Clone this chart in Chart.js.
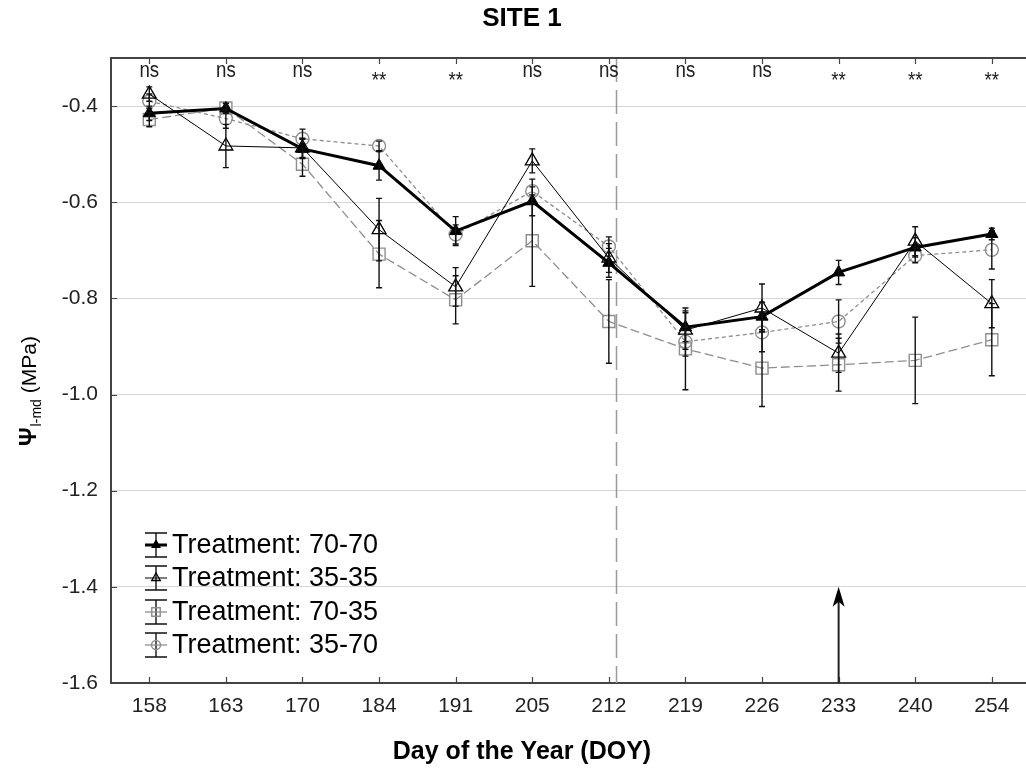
<!DOCTYPE html>
<html>
<head>
<meta charset="utf-8">
<script src="https://cdn.jsdelivr.net/npm/chart.js@4.4.1/dist/chart.umd.min.js"></script>
<style>
  html, body { margin: 0; padding: 0; overflow: hidden; background: #fff; }
  canvas { display: block; }
</style>
</head>
<body>
<canvas id="chart" width="1040" height="770"></canvas>
<script>
// Day of year (categories) and significance marks above each date
const days = ['158', '163', '170', '184', '191', '205', '212', '219', '226', '233', '240', '254'];
const signif = ['ns', 'ns', 'ns', '**', '**', 'ns', 'ns', 'ns', 'ns', '**', '**', '**'];

// Midday leaf water potential (MPa), mean and error per treatment
const t7070 = [-0.415, -0.405, -0.489, -0.524, -0.660, -0.598, -0.726, -0.860, -0.838, -0.746, -0.694, -0.666];
const t7070Err = [0.015, 0.010, 0.020, 0.030, 0.030, 0.030, 0.030, 0.030, 0.030, 0.025, 0.020, 0.012];

const t3535 = [-0.375, -0.483, -0.487, -0.657, -0.776, -0.514, -0.716, -0.866, -0.820, -0.914, -0.681, -0.811];
const t3535Err = [0.015, 0.045, 0.020, 0.065, 0.040, 0.025, 0.030, 0.040, 0.050, 0.040, 0.030, 0.050];

const t7035 = [-0.428, -0.404, -0.521, -0.708, -0.803, -0.680, -0.848, -0.905, -0.945, -0.938, -0.929, -0.886];
const t7035Err = [0.015, 0.010, 0.025, 0.070, 0.050, 0.095, 0.087, 0.085, 0.080, 0.055, 0.090, 0.075];

const t3570 = [-0.390, -0.426, -0.468, -0.483, -0.667, -0.577, -0.692, -0.890, -0.871, -0.848, -0.711, -0.699];
const t3570Err = [0.015, 0.020, 0.020, 0.010, 0.020, 0.025, 0.020, 0.030, 0.040, 0.045, 0.015, 0.040];

// vertical split between 212 and 219 (category index), and the arrow at DOY 233
const splitAt = 6.1;
const arrowDay = '233';
const arrowFrom = -1.6, arrowTo = -1.4;

const FONT = 'Arial, "Liberation Sans", Helvetica, sans-serif';
const GREY = '#8e8e8e';

function makeSet(label, data, errors, opts) {
    return Object.assign({
        label: label,
        data: data,
        errors: errors,
        tension: 0,
        fill: false,
        pointRotation: 0
    }, opts);
}

const datasets = [
    makeSet('Treatment: 70-70', t7070, t7070Err, {
        borderColor: '#000', borderWidth: 3,
        pointStyle: 'triangle', pointRadius: 7,
        pointBackgroundColor: '#000', pointBorderColor: '#000', pointBorderWidth: 1,
        legendRadius: 5
    }),
    makeSet('Treatment: 35-35', t3535, t3535Err, {
        borderColor: '#000', borderWidth: 1,
        pointStyle: 'triangle', pointRadius: 8,
        pointBackgroundColor: 'rgba(255,255,255,0)', pointBorderColor: '#000', pointBorderWidth: 1.3,
        legendRadius: 5
    }),
    makeSet('Treatment: 70-35', t7035, t7035Err, {
        borderColor: GREY, borderWidth: 1.3, borderDash: [9, 4],
        pointStyle: 'rect', pointRadius: 8.5,
        pointBackgroundColor: 'rgba(255,255,255,0)', pointBorderColor: GREY, pointBorderWidth: 1.4,
        legendRadius: 6
    }),
    makeSet('Treatment: 35-70', t3570, t3570Err, {
        borderColor: GREY, borderWidth: 1.3, borderDash: [4, 3],
        pointStyle: 'circle', pointRadius: 6.5,
        pointBackgroundColor: 'rgba(255,255,255,0)', pointBorderColor: GREY, pointBorderWidth: 1.4,
        legendRadius: 4.5
    })
];

const extras = {
    id: 'extras',
    beforeDatasetsDraw(chart) {
        const { ctx, chartArea: a, scales: { x } } = chart;
        // dashed divider
        const sx = x.getPixelForValue(splitAt);
        ctx.save();
        ctx.strokeStyle = '#9a9a9a';
        ctx.lineWidth = 1.5;
        ctx.setLineDash([24, 8]);
        ctx.beginPath();
        ctx.moveTo(sx, a.top);
        ctx.lineTo(sx, a.bottom);
        ctx.stroke();
        ctx.restore();
    },
    afterDatasetsDraw(chart) {
        const { ctx, scales: { x, y } } = chart;
        ctx.save();
        ctx.strokeStyle = '#111';
        ctx.lineWidth = 1.4;
        chart.data.datasets.forEach((ds, i) => {
            const meta = chart.getDatasetMeta(i);
            meta.data.forEach((pt, j) => {
                const v = ds.data[j], e = ds.errors[j];
                const top = y.getPixelForValue(v + e);
                const bot = y.getPixelForValue(v - e);
                ctx.beginPath();
                ctx.moveTo(pt.x, top);
                ctx.lineTo(pt.x, bot);
                ctx.moveTo(pt.x - 3, top);
                ctx.lineTo(pt.x + 3, top);
                ctx.moveTo(pt.x - 3, bot);
                ctx.lineTo(pt.x + 3, bot);
                ctx.stroke();
            });
        });
        ctx.restore();
    },
    afterDraw(chart) {
        const { ctx, chartArea: a, scales: { x, y } } = chart;
        ctx.save();

        // top frame and inward ticks
        ctx.strokeStyle = '#444';
        ctx.lineWidth = 2;
        ctx.beginPath();
        ctx.moveTo(a.left - 1, a.top);
        ctx.lineTo(a.right, a.top);
        ctx.stroke();
        ctx.lineWidth = 1.2;
        ctx.beginPath();
        days.forEach((d, i) => {
            const px = Math.round(x.getPixelForValue(i)) + 0.5;
            ctx.moveTo(px, a.top);
            ctx.lineTo(px, a.top + 6);
            ctx.moveTo(px, a.bottom);
            ctx.lineTo(px, a.bottom - 6);
        });
        y.ticks.forEach(t => {
            const py = Math.round(y.getPixelForValue(t.value)) + 0.5;
            ctx.moveTo(a.left, py);
            ctx.lineTo(a.left + 6, py);
        });
        ctx.stroke();

        // significance marks
        ctx.fillStyle = '#222';
        ctx.textAlign = 'center';
        ctx.textBaseline = 'alphabetic';
        signif.forEach((s, i) => {
            const px = x.getPixelForValue(i);
            ctx.save();
            ctx.translate(px, s === '**' ? a.top + 29 : a.top + 19);
            ctx.scale(0.85, 1);
            ctx.font = '22px ' + FONT;
            ctx.fillText(s, 0, 0);
            ctx.restore();
        });

        // arrow
        const ax = x.getPixelForValue(days.indexOf(arrowDay));
        const ay0 = y.getPixelForValue(arrowFrom);
        const ay1 = y.getPixelForValue(arrowTo);
        ctx.strokeStyle = '#222';
        ctx.fillStyle = '#000';
        ctx.lineWidth = 2;
        ctx.beginPath();
        ctx.moveTo(ax, ay0);
        ctx.lineTo(ax, ay1 + 12);
        ctx.stroke();
        ctx.beginPath();
        ctx.moveTo(ax, ay1);
        ctx.lineTo(ax + 6, ay1 + 20);
        ctx.lineTo(ax, ay1 + 15);
        ctx.lineTo(ax - 6, ay1 + 20);
        ctx.closePath();
        ctx.fill();

        // legend with error-bar symbols
        const rows = [545, 578, 612, 645];
        const lx = 156;
        chart.data.datasets.forEach((ds, i) => {
            const ly = rows[i];
            ctx.strokeStyle = '#111';
            ctx.lineWidth = 1.4;
            ctx.setLineDash([]);
            ctx.beginPath();
            ctx.moveTo(lx, ly - 12);
            ctx.lineTo(lx, ly + 12);
            ctx.moveTo(lx - 11, ly - 12);
            ctx.lineTo(lx + 11, ly - 12);
            ctx.moveTo(lx - 11, ly + 12);
            ctx.lineTo(lx + 11, ly + 12);
            ctx.stroke();
            ctx.strokeStyle = ds.borderColor;
            ctx.lineWidth = ds.borderWidth;
            ctx.beginPath();
            ctx.moveTo(lx - 11, ly);
            ctx.lineTo(lx + 11, ly);
            ctx.stroke();
            ctx.fillStyle = ds.pointBackgroundColor;
            ctx.strokeStyle = ds.pointBorderColor;
            ctx.lineWidth = ds.pointBorderWidth;
            Chart.helpers.drawPoint(ctx, {
                pointStyle: ds.pointStyle, radius: ds.legendRadius,
                rotation: 0, borderWidth: ds.pointBorderWidth
            }, lx, ly);
            ctx.fillStyle = '#000';
            ctx.font = '27px ' + FONT;
            ctx.textAlign = 'left';
            ctx.textBaseline = 'middle';
            ctx.fillText(ds.label, 172, ly + 1);
        });

        // titles
        ctx.fillStyle = '#000';
        ctx.textAlign = 'center';
        ctx.textBaseline = 'middle';
        ctx.font = 'bold 26px ' + FONT;
        ctx.fillText('SITE 1', 522, 19);
        ctx.font = 'bold 25px ' + FONT;
        ctx.fillText('Day of the Year (DOY)', 522, 752);

        // rotated y title: Psi with subscript, then unit
        ctx.translate(36, 446);
        ctx.rotate(-Math.PI / 2);
        ctx.textAlign = 'left';
        ctx.textBaseline = 'alphabetic';
        ctx.font = 'bold 23px ' + FONT;
        ctx.fillText('Ψ', 0, 0);
        let off = ctx.measureText('Ψ').width + 1;
        ctx.font = '14px ' + FONT;
        ctx.fillText('l-md', off, 5);
        off += ctx.measureText('l-md').width + 6;
        ctx.font = '21px ' + FONT;
        ctx.fillText('(MPa)', off, 0);

        ctx.restore();
    }
};

new Chart(document.getElementById('chart'), {
    type: 'line',
    data: { labels: days, datasets: datasets },
    options: {
        responsive: false,
        animation: false,
        layout: { padding: { top: 58, right: 7, bottom: 0, left: 0 } },
        plugins: {
            legend: { display: false },
            tooltip: { enabled: false },
            title: { display: false }
        },
        scales: {
            x: {
                type: 'category',
                offset: true,
                grid: { display: false, drawTicks: false },
                border: { display: true, color: '#444', width: 2 },
                ticks: {
                    color: '#222', padding: 11, maxRotation: 0, autoSkip: false,
                    font: { family: FONT, size: 21 }
                },
                afterFit(s) { s.height = 87; }
            },
            y: {
                min: -1.6,
                max: -0.3,
                grid: { color: '#d6d6d6', lineWidth: 1, drawTicks: false },
                border: { display: true, color: '#444', width: 2 },
                ticks: {
                    stepSize: 0.2, color: '#222', padding: 13,
                    font: { family: FONT, size: 21 },
                    callback: v => v.toFixed(1)
                },
                afterBuildTicks(s) { s.ticks = s.ticks.filter(t => t.value < -0.35); },
                afterFit(s) { s.width = 111; }
            }
        }
    },
    plugins: [extras]
});
</script>
</body>
</html>
